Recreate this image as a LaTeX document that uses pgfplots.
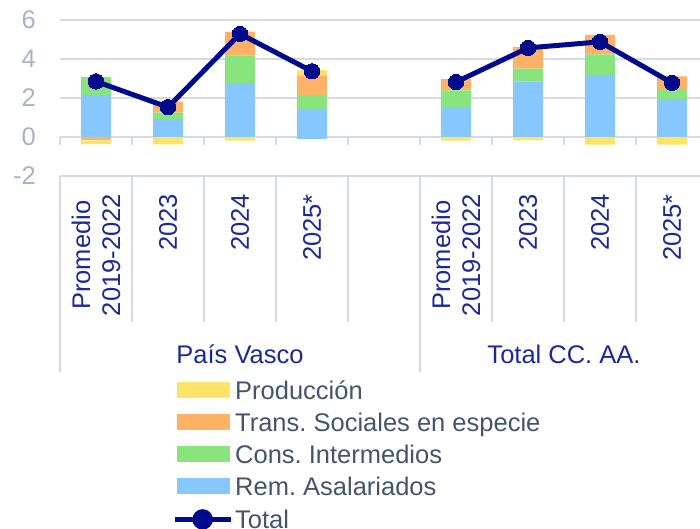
\documentclass[border=0pt]{standalone}
\usepackage{pgfplots}
\pgfplotsset{compat=1.18}
\usepackage{pgfplotstable}
\usepackage{fontspec}
\setmainfont{Liberation Sans}
\definecolor{cyel}{RGB}{255,226,102}
\definecolor{cora}{RGB}{255,178,102}
\definecolor{cgre}{RGB}{136,228,124}
\definecolor{cblu}{RGB}{135,199,255}
\definecolor{navy}{RGB}{0,10,140}
\definecolor{catblue}{RGB}{28,40,150}
\definecolor{leggray}{RGB}{68,84,106}
\definecolor{tickgray}{RGB}{168,178,192}
\definecolor{gridgray}{RGB}{214,219,226}
\newcommand\bigf{\fontsize{25.5pt}{30pt}\selectfont}
\pgfplotsset{
  swatch/.style={legend image code/.code={\fill[##1] (0pt,-8pt) rectangle (53pt,8pt);}},
  totimg/.style={legend image code/.code={\draw[navy, line width=5pt] (-2pt,0pt) -- (54pt,0pt); \fill[navy] (26pt,0pt) circle (7.7pt);}},
}

\pgfplotstableread{
x blue green orange yellow
0 2.16 0.93 0.00 0.00
1 0.88 0.37 0.57 0.00
2 2.78 1.40 1.23 0.00
3 1.44 0.72 1.00 0.26
5 1.53 0.86 0.59 0.00
6 2.85 0.66 1.11 0.00
7 3.18 1.06 1.00 0.00
8 1.94 0.52 0.65 0.00
}\pos
\pgfplotstableread{
x blue orange yellow
0 0.00 -0.17 -0.20
1 0.00 0.00 -0.38
2 0.00 0.00 -0.19
3 -0.09 0.00 0.00
5 0.00 0.00 -0.19
6 0.00 0.00 -0.17
7 0.00 0.00 -0.39
8 0.00 0.00 -0.39
}\negt
\pgfplotstableread{
x total
0 2.85
1 1.53
2 5.29
3 3.37
}\totA
\pgfplotstableread{
x total
5 2.82
6 4.57
7 4.88
8 2.78
}\totB

\begin{document}
\frenchspacing
\begin{tikzpicture}[x=1pt,y=1pt]
\useasboundingbox (0,0) rectangle (700,-528);
\pgfplotsset{base/.style={scale only axis, width=648pt, height=156pt,
  xmin=-0.5, xmax=8.5, ymin=-2, ymax=6, at={(60pt,-176pt)}, anchor=south west, clip=false}}

% frame axis
\begin{axis}[base,
  axis line style={draw=none},
  ymajorgrids, grid style={gridgray, line width=1.2pt},
  ytick={-2,0,2,4,6}, yticklabels={-2,0,2,4,6},
  yticklabel style={text=tickgray, font=\bigf, inner sep=0pt, xshift=-24pt},
  xtick={0,1,2,3,5,6,7,8},
  xticklabels={{Promedio\\2019-2022},2023,2024,2025*,{Promedio\\2019-2022},2023,2024,2025*},
  xticklabel style={yshift=-18pt, rotate=90, anchor=east, align=center, inner sep=0pt, text=catblue, font=\bigf},
  major tick length=0pt, tick style={draw=none},
]
\pgfplotsinvokeforeach{-0.5,0.5,1.5,2.5,3.5,4.5,5.5,6.5,7.5,8.5}{
  \draw[gridgray, line width=1.2pt] (axis cs:#1,0) -- ++(0pt,-8pt);
}
\pgfplotsinvokeforeach{0.5,1.5,2.5,3.5,5.5,6.5,7.5}{
  \draw[gridgray, line width=1.2pt] (axis cs:#1,-2) -- ++(0pt,-146pt);
}
\pgfplotsinvokeforeach{-0.5,4.5,8.5}{
  \draw[gridgray, line width=1.2pt] (axis cs:#1,-2) -- ++(0pt,-196pt);
}
\node[anchor=base, yshift=-187pt, text=catblue, font=\bigf] at (axis cs:2,-2) {País Vasco};
\node[anchor=base, yshift=-187pt, text=catblue, font=\bigf] at (axis cs:6.5,-2) {Total CC. AA.};
\end{axis}

% positive stacks
\begin{axis}[base, hide axis, ybar stacked, bar width=30pt]
\addplot[fill=cblu, draw=none] table[x=x,y=blue]{\pos};
\addplot[fill=cgre, draw=none] table[x=x,y=green]{\pos};
\addplot[fill=cora, draw=none] table[x=x,y=orange]{\pos};
\addplot[fill=cyel, draw=none] table[x=x,y=yellow]{\pos};
\end{axis}

% negative stacks
\begin{axis}[base, hide axis, ybar stacked, bar width=30pt]
\addplot[fill=cblu, draw=none] table[x=x,y=blue]{\negt};
\addplot[fill=cora, draw=none] table[x=x,y=orange]{\negt};
\addplot[fill=cyel, draw=none] table[x=x,y=yellow]{\negt};
\end{axis}

% total line and legend
\begin{axis}[base, hide axis,
  legend style={at={(0.1728,-1.314)}, anchor=north west, draw=none, fill=none,
    inner sep=0pt, row sep=14pt, column sep=2pt, font=\bigf, text=leggray,
    nodes={inner sep=0pt, text height=18pt, text depth=0pt}},
  legend cell align=left,
]
\addlegendimage{fill=cyel, draw=none, swatch}
\addlegendentry{Producción}
\addlegendimage{fill=cora, draw=none, swatch}
\addlegendentry{Trans. Sociales en especie}
\addlegendimage{fill=cgre, draw=none, swatch}
\addlegendentry{Cons. Intermedios}
\addlegendimage{fill=cblu, draw=none, swatch}
\addlegendentry{Rem. Asalariados}
\addplot[navy, line width=5pt, mark=*, mark size=7.7pt, mark options={fill=navy, line width=0pt}, totimg]
  table[x=x,y=total]{\totA};
\addlegendentry{Total}
\addplot[navy, line width=5pt, mark=*, mark size=7.7pt, mark options={fill=navy, line width=0pt}, forget plot]
  table[x=x,y=total]{\totB};
\end{axis}
\end{tikzpicture}
\end{document}
